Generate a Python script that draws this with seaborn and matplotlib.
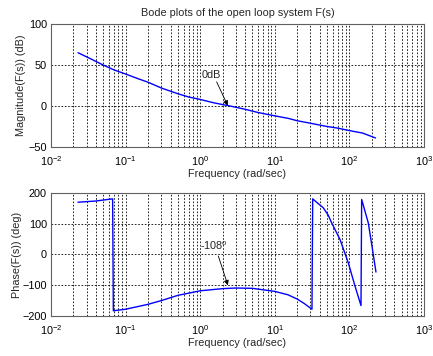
import numpy as np
import pandas as pd
import matplotlib
matplotlib.use("Agg")
import matplotlib.pyplot as plt
import seaborn as sns
from matplotlib.ticker import LogLocator, NullFormatter, FixedLocator

# ---- data ----
mag_freq = [0.023, 0.035, 0.05, 0.07, 0.1, 0.15, 0.2, 0.3, 0.5, 0.7, 1.0, 1.5,
            2.5, 4.0, 6.0, 10.0, 15.0, 20.0, 30.0, 50.0, 70.0, 100.0, 150.0, 224.0]
mag_db = [65, 57, 50, 44, 39, 33, 29, 22, 15, 11, 8, 4,
          0, -4, -8, -12, -15, -18, -21, -25, -27, -30, -33, -39]

ph_freq = [0.023, 0.04, 0.067, 0.0685, 0.1, 0.2, 0.3, 0.5, 1.0, 2.0, 3.0, 5.0,
           10.0, 15.0, 20.0, 25.0, 31.5, 32.2, 38.0, 44.6, 52.0, 57.8, 74.8,
           96.6, 119.0, 143.0, 146.0, 160.0, 179.0, 200.0, 227.0]
ph_deg = [170, 174, 181, -183, -178, -162, -150, -133, -118, -111, -109, -110,
          -120, -131, -145, -160, -178, 181, 166, 152, 128, 103, 49,
          -27, -103, -166, 179, 145, 103, 30, -57]

mag_ticks = [-50, 0, 50, 100]
ph_ticks = [-200, -100, 0, 100, 200]
title = "Bode plots of the open loop system F(s)"
xlab = "Frequency (rad/sec)"
ylab_mag = "Magnitude(F(s)) (dB)"
ylab_ph = "Phase(F(s)) (deg)"

sns.set_style("white")
plt.rcParams["font.family"] = ["Liberation Sans", "DejaVu Sans"]
plt.rcParams["mathtext.default"] = "regular"
FS = 7.8
plt.rcParams["font.size"] = FS

fig = plt.figure(figsize=(4.33, 3.56), dpi=100)
ax1 = fig.add_axes([51/433, 1-147/356, 373/433, 123/356])
ax2 = fig.add_axes([51/433, 1-316/356, 373/433, 123/356])

mag_df = pd.DataFrame({"f": mag_freq, "m": mag_db})
ph_df = pd.DataFrame({"f": ph_freq, "p": ph_deg})

sns.lineplot(data=mag_df, x="f", y="m", ax=ax1, color="blue", lw=1.0,
             sort=False, estimator=None)
sns.lineplot(data=ph_df, x="f", y="p", ax=ax2, color="blue", lw=1.0,
             sort=False, estimator=None)

grid_kw = dict(color="black", linestyle=(0, (2, 2)), linewidth=0.6)
for ax, yt in ((ax1, mag_ticks), (ax2, ph_ticks)):
    ax.set_xscale("log")
    ax.set_xlim(1e-2, 1e3)
    ax.set_ylim(yt[0], yt[-1])
    ax.yaxis.set_major_locator(FixedLocator(yt))
    ax.xaxis.set_major_locator(LogLocator(base=10, numticks=10))
    ax.xaxis.set_minor_locator(LogLocator(base=10, subs=np.arange(2, 10), numticks=20))
    ax.xaxis.set_minor_formatter(NullFormatter())
    ax.grid(True, which="major", axis="both", **grid_kw)
    ax.grid(True, which="minor", axis="x", **grid_kw)
    ax.tick_params(which="both", direction="in", length=3, width=0.6,
                   labelsize=FS, colors="black")
    ax.tick_params(axis="x", pad=5)
    ax.tick_params(axis="y", pad=3)
    ax.tick_params(which="minor", length=2)
    for s in ax.spines.values():
        s.set_color("#606060")
        s.set_linewidth(0.8)
    ax.set_xlabel(xlab, fontsize=FS, labelpad=1)

ax1.set_ylabel(ylab_mag, fontsize=FS, labelpad=2)
ax2.set_ylabel(ylab_ph, fontsize=FS, labelpad=0)
ax1.set_title(title, fontsize=FS, pad=6)

arrow_kw = dict(arrowstyle="-|>", color="black", lw=0.6, mutation_scale=7,
                shrinkA=0, shrinkB=0)
ax1.annotate("", xy=(2.34, 0.5), xytext=(1.66, 29.5), arrowprops=arrow_kw)
ax1.text(1.06, 34, "0dB", fontsize=FS, ha="left", va="baseline")
ax2.annotate("", xy=(2.35, -100), xytext=(1.75, -5), arrowprops=arrow_kw)
ax2.text(1.0, 16, "-108$^o$", fontsize=FS, ha="left", va="baseline")

fig.savefig("out.png", dpi=100)
